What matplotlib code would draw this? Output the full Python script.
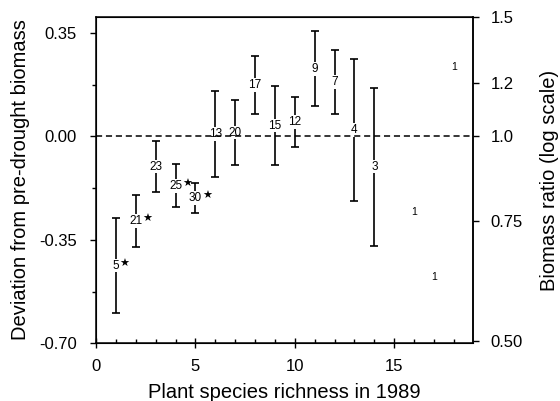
import numpy as np
import matplotlib.pyplot as plt
from matplotlib.ticker import MultipleLocator, FixedLocator, NullLocator

plt.rcParams['font.family'] = ['Liberation Sans', 'DejaVu Sans']

# Plots with replication: richness, mean deviation, error half-width, n plots
richness = [1, 2, 3, 4, 5, 6, 7, 8, 9, 10, 11, 12, 13, 14]
deviation = [-0.437, -0.286, -0.102, -0.167, -0.208, 0.009, 0.013, 0.174,
             0.037, 0.048, 0.229, 0.184, 0.022, -0.102]
err = [0.161, 0.088, 0.087, 0.073, 0.051, 0.145, 0.110, 0.098,
       0.134, 0.084, 0.127, 0.108, 0.240, 0.267]
n_plots = ['5', '21', '23', '25', '30', '13', '20', '17',
           '15', '12', '9', '7', '4', '3']
significant = [True, True, False, True, True, False, False, False,
               False, False, False, False, False, False]

# Single plots (no error bar)
single_richness = [16, 17, 18]
single_deviation = [-0.257, -0.474, 0.235]
single_label = ['1', '1', '1']

fig = plt.figure(figsize=(5.6, 4.01), dpi=100)
ax = fig.add_axes([0.1714, 0.1439, 0.6727, 0.8145])

ax.axhline(0, color='black', ls=(0, (4, 2.5)), lw=1.1, zorder=4)

ax.errorbar(richness, deviation, yerr=err, fmt='none', ecolor='black',
            elinewidth=1.2, capsize=2.6, capthick=1.2, zorder=2)

for x, y, lab, sig in zip(richness, deviation, n_plots, significant):
    ax.text(x, y, lab, ha='center', va='center', fontsize=8.5, zorder=3,
            bbox=dict(facecolor='white', edgecolor='none', pad=0.6))
    if sig:
        off = 2.4 * len(lab) + 3.5
        ax.annotate('★', (x, y), xytext=(off, 1.5), textcoords='offset points',
                    ha='center', va='center', fontsize=8, family='DejaVu Sans')

for x, y, lab in zip(single_richness, single_deviation, single_label):
    ax.text(x, y, lab, ha='center', va='center', fontsize=7.5)

top = np.log(1.5)
ax.set_xlim(0, 18.95)
ax.set_ylim(-0.70, top)
ax.xaxis.set_major_locator(MultipleLocator(5))
ax.xaxis.set_minor_locator(MultipleLocator(1))
ax.yaxis.set_major_locator(FixedLocator([-0.70, -0.35, 0.0, 0.35]))
ax.yaxis.set_minor_locator(FixedLocator([-0.525, -0.175, 0.175]))
ax.set_yticklabels(['-0.70', '-0.35', '0.00', '0.35'])

ax.tick_params(axis='x', which='major', direction='inout', length=7, width=1,
               labelsize=12, pad=8)
ax.tick_params(axis='x', which='minor', direction='in', length=3, width=1)
ax.tick_params(axis='y', which='major', direction='out', length=4, width=1,
               labelsize=12, pad=10)
ax.tick_params(axis='y', which='minor', direction='out', length=3, width=1)
for s in ax.spines.values():
    s.set_linewidth(1.1)

ax.set_xlabel('Plant species richness in 1989', fontsize=14.5, labelpad=6)
ax.set_ylabel('Deviation from pre-drought biomass', fontsize=14.5, labelpad=6)

# Right axis: biomass ratio on log scale
ax2 = ax.twinx()
ax2.set_yscale('log')
ax2.set_ylim(np.exp(-0.70), 1.5)
ax2.yaxis.set_major_locator(FixedLocator([0.5, 0.75, 1.0, 1.2, 1.5]))
ax2.yaxis.set_minor_locator(NullLocator())
ax2.set_yticklabels(['0.50', '0.75', '1.0', '1.2', '1.5'])
ax2.tick_params(axis='y', direction='out', length=4, width=1, labelsize=12, pad=9)
ax2.spines['right'].set_linewidth(1.1)
ax2.set_ylabel('Biomass ratio (log scale)', fontsize=14.5, labelpad=12)

fig.savefig('out.png', dpi=100)
